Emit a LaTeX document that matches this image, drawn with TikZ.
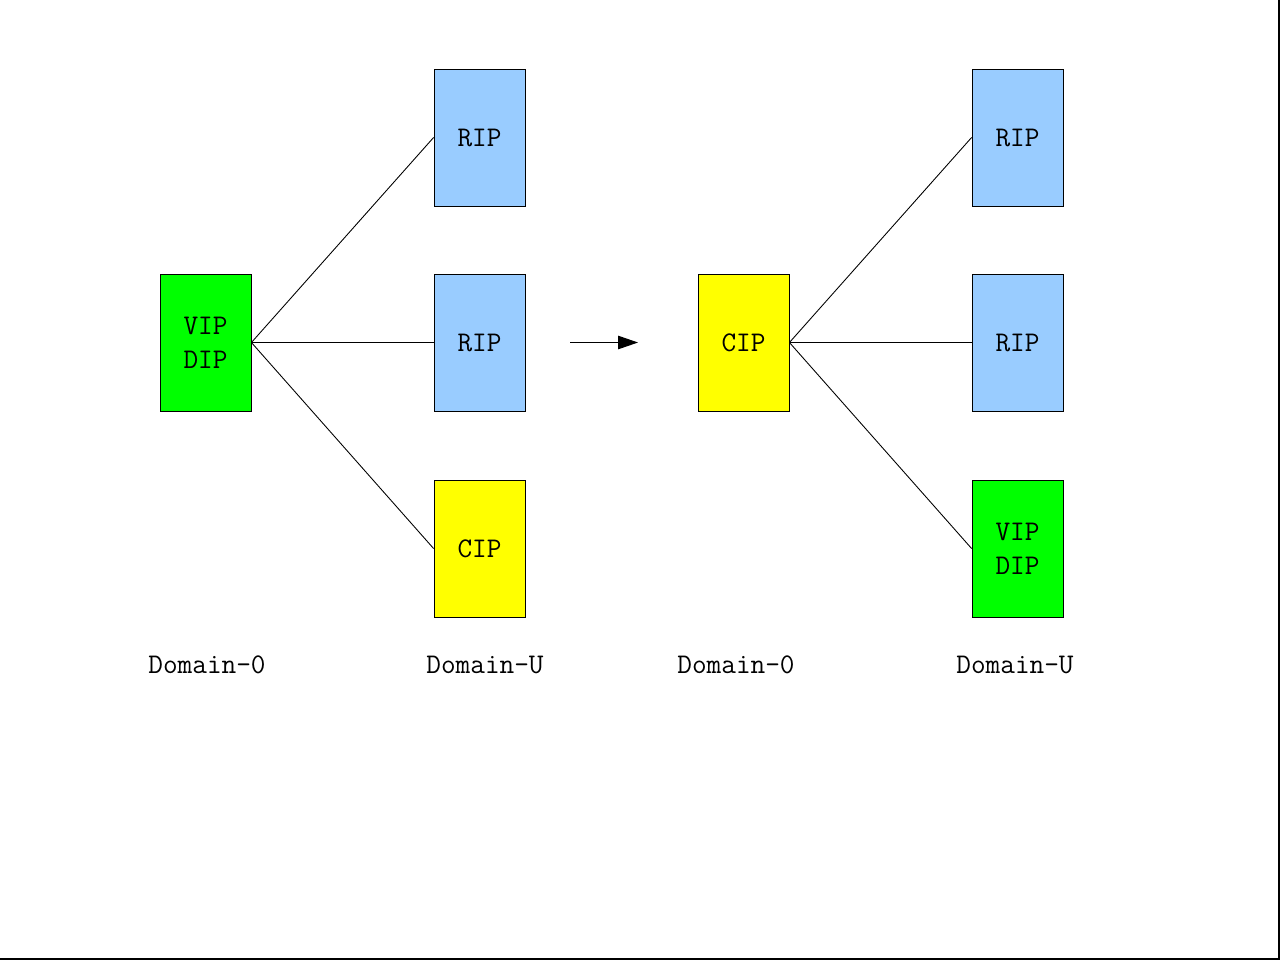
\documentclass[tikz,border=0pt]{standalone}
\usepackage{fontspec}
\usepackage{tikz}
\usetikzlibrary{arrows.meta}
\definecolor{ipgreen}{HTML}{00FF00}
\definecolor{ipblue}{HTML}{99CCFF}
\definecolor{ipyellow}{HTML}{FFFF00}

\begin{document}
\begin{tikzpicture}[x=0.02cm, y=-0.02cm,
  ip/.style={draw, line width=0.5pt, minimum width=1.82cm, minimum height=2.74cm,
             inner sep=0pt, align=center, font=\ttfamily\fontsize{16.2}{19.4}\selectfont},
  dom/.style={font=\ttfamily\fontsize{16.2}{18}\selectfont},
  link/.style={line width=0.5pt},
  flecha/.style={-{Triangle[length=0.4cm, width=0.27cm]}, line width=0.6pt}]
\useasboundingbox (0,0) rectangle (1280,960);
% left side: before
\node[ip, fill=ipgreen] (a0) at (205.5,342.5) {VIP\\DIP};
\node[ip, fill=ipblue] (a1) at (479.5,137.5) {RIP};
\node[ip, fill=ipblue] (a2) at (479.5,342.5) {RIP};
\node[ip, fill=ipyellow] (a3) at (479.5,548.5) {CIP};
\draw[link] (a0.east) -- (a1.west);
\draw[link] (a0.east) -- (a2.west);
\draw[link] (a0.east) -- (a3.west);
% right side: after
\node[ip, fill=ipyellow] (b0) at (743.5,342.5) {CIP};
\node[ip, fill=ipblue] (b1) at (1017.5,137.5) {RIP};
\node[ip, fill=ipblue] (b2) at (1017.5,342.5) {RIP};
\node[ip, fill=ipgreen] (b3) at (1017.5,548.5) {VIP\\DIP};
\draw[link] (b0.east) -- (b1.west);
\draw[link] (b0.east) -- (b2.west);
\draw[link] (b0.east) -- (b3.west);
% arrow between the two
\coordinate (p) at (570,342.5);
\coordinate (q) at (638,342.5);
\draw[flecha] (p) -- (q);
% labels
\node[dom] (l0) at (207,665) {Domain-0};
\node[dom] (l1) at (485,665) {Domain-U};
\node[dom] (l2) at (736,665) {Domain-0};
\node[dom] (l3) at (1015,665) {Domain-U};
% frame edge
\draw[line width=0.04cm] (1279,0) -- (1279,959) -- (0,959);
\end{tikzpicture}
\end{document}
